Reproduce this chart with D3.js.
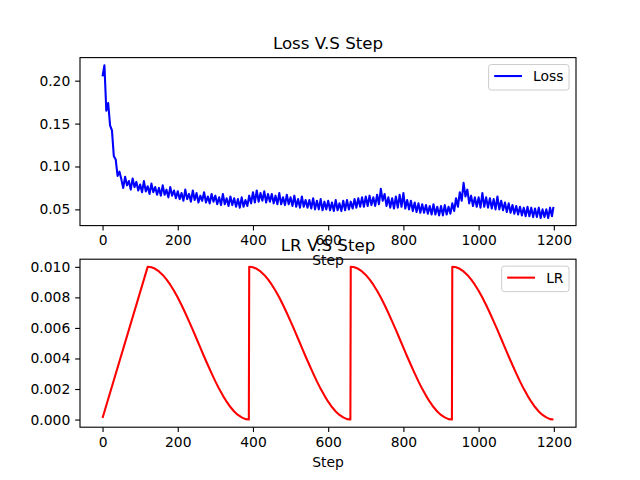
<!DOCTYPE html>
<html><head><meta charset="utf-8">
<script src="https://cdn.jsdelivr.net/npm/d3@7"></script>
<style>body{margin:0;background:#fff} svg{display:block} text{font-family:"DejaVu Sans",sans-serif}</style>
</head><body><svg id="c" width="640" height="480"></svg>
<script>
// Loss, sampled every 5 steps (last point at step 1199)
const lossValues = [
0.205,0.218,0.165,0.174,0.148,0.142,0.112,0.108,0.089,0.094,
0.085,0.075,0.088,0.078,0.083,0.073,0.086,0.076,0.082,0.072,
0.079,0.070,0.083,0.071,0.077,0.068,0.080,0.070,0.076,0.067,
0.075,0.066,0.078,0.067,0.073,0.064,0.076,0.066,0.072,0.063,
0.071,0.062,0.069,0.060,0.073,0.062,0.068,0.059,0.072,0.061,
0.069,0.058,0.066,0.060,0.070,0.058,0.065,0.057,0.068,0.059,
0.066,0.056,0.064,0.055,0.068,0.056,0.063,0.054,0.065,0.055,
0.063,0.053,0.062,0.052,0.064,0.053,0.061,0.054,0.066,0.057,
0.070,0.058,0.072,0.059,0.069,0.060,0.071,0.058,0.068,0.059,
0.068,0.057,0.066,0.056,0.069,0.056,0.064,0.055,0.067,0.056,
0.064,0.054,0.066,0.053,0.062,0.052,0.065,0.053,0.061,0.052,
0.061,0.051,0.063,0.050,0.060,0.050,0.062,0.049,0.059,0.050,
0.060,0.049,0.058,0.048,0.061,0.049,0.057,0.048,0.060,0.049,
0.061,0.050,0.059,0.051,0.062,0.052,0.063,0.053,0.064,0.053,
0.065,0.054,0.066,0.055,0.064,0.054,0.067,0.056,0.074,0.060,
0.068,0.054,0.064,0.052,0.063,0.051,0.065,0.052,0.067,0.053,
0.069,0.051,0.061,0.050,0.060,0.048,0.058,0.047,0.057,0.046,
0.056,0.046,0.055,0.045,0.054,0.044,0.056,0.044,0.053,0.043,
0.054,0.043,0.055,0.044,0.053,0.045,0.057,0.048,0.063,0.053,
0.070,0.060,0.081,0.065,0.073,0.057,0.066,0.054,0.064,0.053,
0.064,0.052,0.069,0.053,0.064,0.052,0.063,0.051,0.062,0.050,
0.065,0.050,0.060,0.049,0.058,0.047,0.057,0.046,0.055,0.045,
0.054,0.044,0.053,0.043,0.052,0.042,0.053,0.042,0.052,0.041,
0.051,0.041,0.052,0.040,0.050,0.041,0.050,0.040,0.052,0.042,
0.053];
const lossSteps = lossValues.map((_, i) => Math.min(i * 5, 1199));

// Learning rate (warmup + cosine restarts)
const lrSteps = [0,
120,130,140,150,160,170,180,190,200,210,220,230,240,250,260,270,280,290,300,310,320,330,340,350,360,370,380,389,
390,400,410,420,430,440,450,460,470,480,490,500,510,520,530,540,550,560,570,580,590,600,610,620,630,640,650,659,
660,670,680,690,700,710,720,730,740,750,760,770,780,790,800,810,820,830,840,850,860,870,880,890,900,910,920,929,
930,940,950,960,970,980,990,1000,1010,1020,1030,1040,1050,1060,1070,1080,1090,1100,1110,1120,1130,1140,1150,1160,1170,1180,1190,1199];
const lrValues = [0.0001,
0.01000,0.00997,0.00987,0.00970,0.00947,0.00918,0.00883,0.00843,0.00799,0.00750,0.00698,0.00643,0.00587,0.00529,0.00471,0.00413,0.00357,0.00302,0.00250,0.00201,0.00157,0.00117,0.00082,0.00053,0.00030,0.00014,0.00003,0.00000,
0.01000,0.00997,0.00987,0.00970,0.00947,0.00918,0.00883,0.00843,0.00799,0.00750,0.00698,0.00643,0.00587,0.00529,0.00471,0.00413,0.00357,0.00302,0.00250,0.00201,0.00157,0.00117,0.00082,0.00053,0.00030,0.00014,0.00003,0.00000,
0.01000,0.00997,0.00987,0.00970,0.00947,0.00918,0.00883,0.00843,0.00799,0.00750,0.00698,0.00643,0.00587,0.00529,0.00471,0.00413,0.00357,0.00302,0.00250,0.00201,0.00157,0.00117,0.00082,0.00053,0.00030,0.00014,0.00003,0.00000,
0.01000,0.00997,0.00987,0.00970,0.00947,0.00918,0.00883,0.00843,0.00799,0.00750,0.00698,0.00643,0.00587,0.00529,0.00471,0.00413,0.00357,0.00302,0.00250,0.00201,0.00157,0.00117,0.00082,0.00053,0.00030,0.00014,0.00003,0.00000];

const xTicks = [0, 200, 400, 600, 800, 1000, 1200];
const lossTicks = [0.05, 0.10, 0.15, 0.20];
const lrTicks = [0.000, 0.002, 0.004, 0.006, 0.008, 0.010];

const svg = d3.select("#c");
const L = 80, R = 576;
const FS = 13.89, TFS = 16.67, LW = 2.08;

function padDomain(ext) { const s = ext[1] - ext[0]; return [ext[0] - 0.05 * s, ext[1] + 0.05 * s]; }

function panel(top, bottom, steps, vals, color, title, label, yTicks, yFmt) {
  const g = svg.append("g");
  const x = d3.scaleLinear().domain(padDomain(d3.extent(steps))).range([L, R]);
  const y = d3.scaleLinear().domain(padDomain(d3.extent(vals))).range([bottom, top]);

  const xa = g.append("g").attr("transform", `translate(0,${bottom})`)
    .call(d3.axisBottom(x).tickValues(xTicks).tickFormat(d3.format("d")).tickSize(4.86).tickPadding(4.86));
  const ya = g.append("g").attr("transform", `translate(${L},0)`)
    .call(d3.axisLeft(y).tickValues(yTicks).tickFormat(yFmt).tickSize(4.86).tickPadding(4.86));
  [xa, ya].forEach(a => {
    a.select(".domain").remove();
    a.selectAll("line").attr("stroke", "#000").attr("stroke-width", 1.11);
    a.selectAll("text").attr("fill", "#000").style("font-size", FS + "px").style("font-family", "DejaVu Sans");
  });

  g.append("path").datum(d3.zip(steps, vals))
    .attr("fill", "none").attr("stroke", color).attr("stroke-width", LW)
    .attr("stroke-linejoin", "round")
    .attr("d", d3.line().x(d => x(d[0])).y(d => y(d[1])));

  g.append("rect").attr("x", L).attr("y", top).attr("width", R - L).attr("height", bottom - top)
    .attr("fill", "none").attr("stroke", "#000").attr("stroke-width", 1.11);

  g.append("text").attr("x", (L + R) / 2).attr("y", top - 8.33).attr("text-anchor", "middle")
    .style("font-size", TFS + "px").text(title);
  g.append("text").attr("x", (L + R) / 2).attr("y", bottom + 39.3).attr("text-anchor", "middle")
    .style("font-size", FS + "px").text("Step");

  // legend
  const lg = g.append("g");
  const t = lg.append("text").style("font-size", FS + "px").text(label);
  const tw = t.node().getComputedTextLength();
  const bw = 5.56 + 27.8 + 11.1 + tw + 5.56, bh = 25.5;
  const bx = R - 6.94 - bw, by = top + 6.94;
  lg.insert("rect", "text").attr("x", bx).attr("y", by).attr("width", bw).attr("height", bh)
    .attr("rx", 2.8).attr("fill", "#fff").attr("fill-opacity", 0.8)
    .attr("stroke", "#cccccc").attr("stroke-width", 1);
  lg.insert("line", "text").attr("x1", bx + 5.56).attr("x2", bx + 5.56 + 27.8)
    .attr("y1", by + 11.5).attr("y2", by + 11.5).attr("stroke", color).attr("stroke-width", LW);
  t.attr("x", bx + 5.56 + 27.8 + 11.1).attr("y", by + 16.4);
}

panel(57.6, 225.6, lossSteps, lossValues, "#0000ff", "Loss V.S Step", "Loss", lossTicks, d3.format(".2f"));
panel(259.2, 427.2, lrSteps, lrValues, "#ff0000", "LR V.S Step", "LR", lrTicks, d3.format(".3f"));
</script></body></html>
